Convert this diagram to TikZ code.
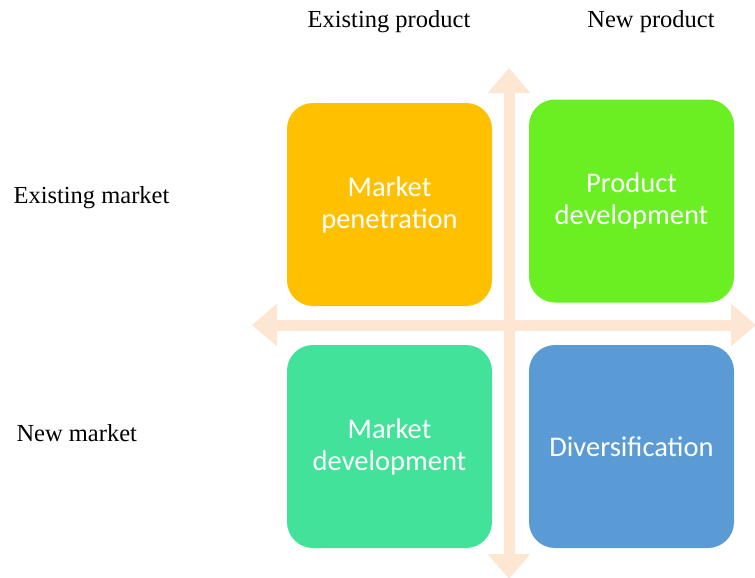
\documentclass[tikz,border=0pt]{standalone}
\usepackage{fontspec}
\setmainfont{Liberation Serif}
\newfontfamily\boxfont{Carlito}
\usetikzlibrary{arrows.meta,positioning}

\definecolor{penetration}{HTML}{FFC000}
\definecolor{proddev}{HTML}{69EF22}
\definecolor{marketdev}{HTML}{42E29B}
\definecolor{diversify}{HTML}{5B9BD5}
\definecolor{axis}{HTML}{FDE6D2}

\tikzset{
    quadrant/.style={rounded corners=26pt, minimum width=205pt, minimum height=203pt,
        align=center, text=white, font=\boxfont\fontsize{28.5}{32}\selectfont},
    heading/.style={font=\fontsize{24.5}{28}\selectfont},
    axisline/.style={axis, line width=11pt,
        {Triangle[length=25pt,width=41pt]}-{Triangle[length=25pt,width=41pt]}}
}

\begin{document}
\begin{tikzpicture}[x=1pt, y=-1pt]
        \useasboundingbox (0,0) rectangle (755,578);

        % Ends of the two axes
        \coordinate (L) at (252,325);
        \coordinate (R) at (756,325);
        \coordinate (T) at (509,68);
        \coordinate (B) at (509,579);

        \begin{scope}
            \draw [axisline] (L) -- (R);
            \draw [axisline] (T) -- (B);
        \end{scope}

        % The four strategies
        \node [quadrant, fill=penetration] (mp) at (389.5,204.5) {Market\\penetration};
        \node [quadrant, fill=proddev] (pd) at (631.5,201) {Product\\development};
        \node [quadrant, fill=marketdev] (md) at (389.5,446.5) {Market\\development};
        \node [quadrant, fill=diversify] (dv) at (631.5,446.5) {Diversification};

        % Row and column headings
        \node [heading] (ep) at (389,22) {Existing product};
        \node [heading] (np) at (651,22) {New product};
        \node [heading, anchor=west] (em) at (10,198) {Existing market};
        \node [heading, anchor=west] (nm) at (13,433) {New market};

\end{tikzpicture}
\end{document}
